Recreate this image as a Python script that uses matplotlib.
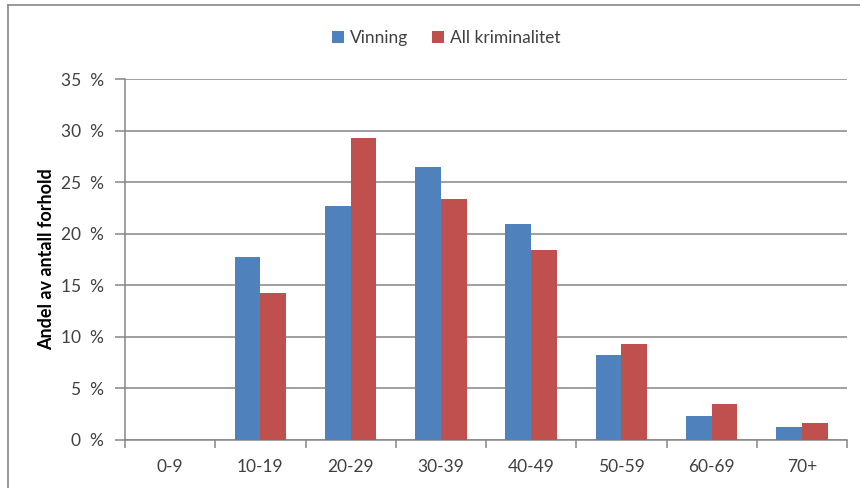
import numpy as np
import matplotlib.pyplot as plt
from matplotlib.lines import Line2D
from matplotlib.ticker import FuncFormatter, FixedLocator

plt.rcParams['font.family'] = ['Lato', 'DejaVu Sans']

# data (share in percent)
age_groups = ['0-9', '10-19', '20-29', '30-39', '40-49', '50-59', '60-69', '70+']
vinning = [0.0, 17.7, 22.7, 26.5, 20.9, 8.2, 2.3, 1.25]
all_krim = [0.0, 14.3, 29.3, 23.4, 18.4, 9.3, 3.5, 1.65]

blue = '#4F81BD'
red = '#C0504D'
grey = '#868686'
text_col = '#404040'

fig = plt.figure(figsize=(8.6, 4.88), dpi=100)
ax = fig.add_axes([125 / 860, 48 / 488, 722 / 860, 361 / 488])

x = np.arange(len(age_groups))
w = 0.286
ax.bar(x - w / 2, vinning, w, color=blue, label='Vinning', zorder=3)
ax.bar(x + w / 2, all_krim, w, color=red, label='All kriminalitet', zorder=3)

ax.set_xlim(-0.5, len(age_groups) - 0.5)
ax.set_ylim(0, 35)
ax.set_yticks(np.arange(0, 36, 5))
ax.yaxis.set_major_formatter(FuncFormatter(lambda v, p: f'{v:.0f}  %'))
ax.yaxis.grid(True, color=grey, linewidth=1.1, zorder=0)

ax.set_xticks(x)
ax.set_xticklabels(age_groups)
ax.xaxis.set_minor_locator(FixedLocator(np.arange(-0.5, len(age_groups), 1)))
ax.tick_params(axis='x', which='major', length=0, pad=14, labelsize=12.5, labelcolor=text_col)
ax.tick_params(axis='x', which='minor', length=6, color=grey, width=1.1, direction='out')
ax.tick_params(axis='y', length=7, color=grey, width=1.1, pad=8, labelsize=12.5, labelcolor=text_col)

for s in ['top', 'right']:
    ax.spines[s].set_visible(False)
for s in ['left', 'bottom']:
    ax.spines[s].set_color(grey)
    ax.spines[s].set_linewidth(1.1)

ax.set_ylabel('Andel av antall forhold', fontsize=13, fontweight='bold', color='black', labelpad=4)

ax.legend(loc='center', bbox_to_anchor=(0.445, 1.114), ncol=2, frameon=False,
          fontsize=12.5, handlelength=0.65, handleheight=0.65, handletextpad=0.35,
          columnspacing=1.4, labelcolor=text_col)

# outer chart border
fig.add_artist(Line2D([8 / 860, 8 / 860], [0, 1 - 5 / 488], color=grey, linewidth=1.2))
fig.add_artist(Line2D([8 / 860, 1], [1 - 5 / 488, 1 - 5 / 488], color=grey, linewidth=1.2))

fig.savefig('out.png', dpi=100, facecolor='white')
